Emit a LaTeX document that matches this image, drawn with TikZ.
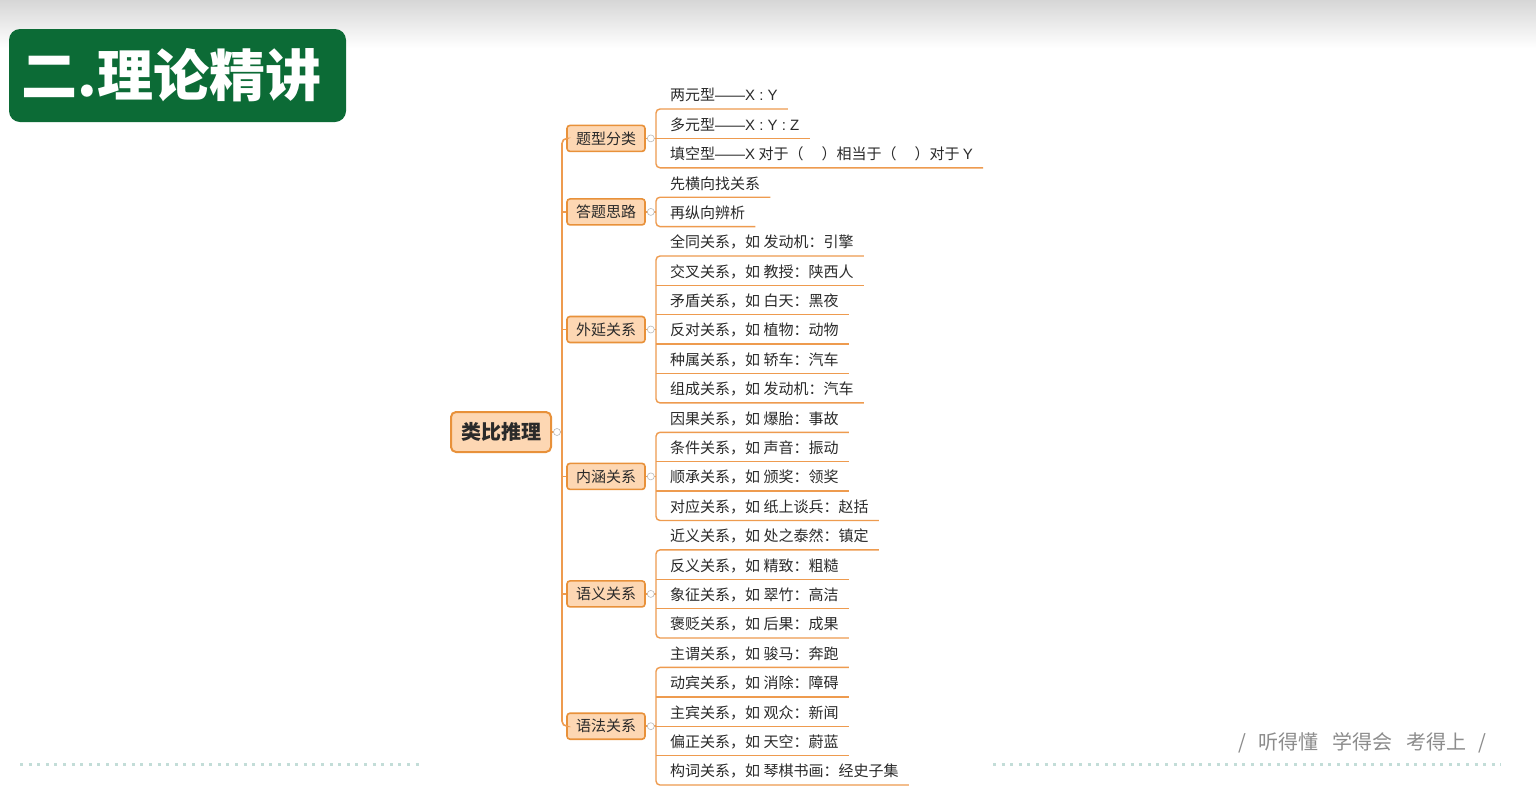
\documentclass[tikz,border=0pt]{standalone}
\usepackage{fontspec}
\setmainfont{Noto Sans CJK SC}
\newfontfamily\latf{Liberation Sans}
\usetikzlibrary{calc}
\definecolor{lineor}{HTML}{EE9B4F}
\definecolor{peach}{HTML}{FDD7B3}
\definecolor{bord}{HTML}{E8913A}
\definecolor{titlegreen}{HTML}{0C6B36}
\definecolor{dotc}{HTML}{C3DDD8}
\definecolor{slog}{HTML}{8C8C8C}
\definecolor{txt}{HTML}{2A2A2A}
\newcommand\mleaf[3]{\node[leaf] (#1) at (656,#2) {\hspace*{14pt}#3\hspace*{10pt}};}
\begin{document}
\begin{tikzpicture}[x=1pt,y=-1pt,
  conn/.style={draw=lineor,line width=1.6pt},
  uline/.style={draw=lineor,line width=1.4pt},
  rootbox/.style={draw=bord,line width=2pt,fill=peach,rounded corners=5pt,minimum width=100pt,minimum height=40pt,inner sep=0pt,font=\bfseries\fontsize{20}{20}\selectfont,text=txt},
  catbox/.style={draw=bord,line width=1.6pt,fill=peach,rounded corners=3pt,minimum width=78pt,minimum height=26pt,inner sep=0pt,font=\fontsize{15}{15}\selectfont,text=txt},
  leaf/.style={anchor=south west,inner sep=0pt,text depth=8pt,text height=13pt,font=\fontsize{15}{15}\selectfont,text=txt},
  tog/.style={circle,draw=gray!55,fill=white,line width=0.6pt,minimum size=7pt,inner sep=0pt},
  titlebox/.style={fill=titlegreen,rounded corners=11pt,minimum width=337pt,minimum height=93pt,inner sep=0pt,text=white,font=\bfseries\fontsize{56}{56}\selectfont},
  dots/.style={draw=dotc,line width=3pt,dash pattern=on 3pt off 5.6pt},
  slogan/.style={text=slog,font=\fontsize{20}{20}\selectfont,inner sep=0pt}
]
\useasboundingbox (0,0) rectangle (1536,796);
\fill[white] (0,0) rectangle (1536,796);
\shade[top color=gray!32,bottom color=white] (0,0) rectangle (1536,48);

% title
\node[titlebox] (title) at (177.5,75.5) {二.理论精讲\hspace*{12pt}};

% root and categories
\node[rootbox] (root) at (501,432) {类比推理};
\node[catbox] (c1) at (606,138.4) {题型分类};
\node[catbox] (c2) at (606,211.9) {答题思路};
\node[catbox] (c3) at (606,329.5) {外延关系};
\node[catbox] (c4) at (606,476.4) {内涵关系};
\node[catbox] (c5) at (606,593.9) {语义关系};
\node[catbox] (c6) at (606,726.2) {语法关系};
\coordinate (tx) at (562,432);

% trunk
\draw[conn,rounded corners=5pt] (c1.west) -- (c1.west -| tx) -- (c6.west -| tx) -- (c6.west);
\draw[conn] (c2.west) -- (c2.west -| tx);
\draw[conn] (c3.west) -- (c3.west -| tx);
\draw[conn] (c4.west) -- (c4.west -| tx);
\draw[conn] (c5.west) -- (c5.west -| tx);
\draw[conn] (root.east) -- (tx);
\node[tog] (roott) at ($(root.east)+(5,0)$) {};

% group 1
\mleaf{a1}{109}{两元型{\latf ——X : Y}}
\mleaf{a2}{138.4}{多元型{\latf ——X : Y : Z}}
\mleaf{a3}{167.8}{填空型{\latf ——X} 对于（\hspace{18pt}）相当于（\hspace{18pt}）对于 {\latf Y}}
\draw[uline,rounded corners=4pt] (a1.south east) -- (a1.south west) -- (a3.south west) -- (a3.south east);
\draw[uline] (a2.south west) -- (a2.south east);
\draw[conn] (c1.east) -- (c1.east -| a1.south west);
\node[tog] (c1t) at ($(c1.east)+(5,0)$) {};

% group 2
\mleaf{b1}{197.2}{先横向找关系}
\mleaf{b2}{226.6}{再纵向辨析}
\draw[uline,rounded corners=4pt] (b1.south east) -- (b1.south west) -- (b2.south west) -- (b2.south east);
\draw[conn] (c2.east) -- (c2.east -| b1.south west);
\node[tog] (c2t) at ($(c2.east)+(5,0)$) {};

% group 3
\mleaf{d1}{256}{全同关系，如 发动机：引擎}
\mleaf{d2}{285.3}{交叉关系，如 教授：陕西人}
\mleaf{d3}{314.7}{矛盾关系，如 白天：黑夜}
\mleaf{d4}{344.1}{反对关系，如 植物：动物}
\mleaf{d5}{373.5}{种属关系，如 轿车：汽车}
\mleaf{d6}{402.9}{组成关系，如 发动机：汽车}
\draw[uline,rounded corners=4pt] (d1.south east) -- (d1.south west) -- (d6.south west) -- (d6.south east);
\foreach \n in {d2,d3,d4,d5} \draw[uline] (\n.south west) -- (\n.south east);
\draw[conn] (c3.east) -- (c3.east -| d1.south west);
\node[tog] (c3t) at ($(c3.east)+(5,0)$) {};

% group 4
\mleaf{e1}{432.3}{因果关系，如 爆胎：事故}
\mleaf{e2}{461.7}{条件关系，如 声音：振动}
\mleaf{e3}{491.1}{顺承关系，如 颁奖：领奖}
\mleaf{e4}{520.5}{对应关系，如 纸上谈兵：赵括}
\draw[uline,rounded corners=4pt] (e1.south east) -- (e1.south west) -- (e4.south west) -- (e4.south east);
\foreach \n in {e2,e3} \draw[uline] (\n.south west) -- (\n.south east);
\draw[conn] (c4.east) -- (c4.east -| e1.south west);
\node[tog] (c4t) at ($(c4.east)+(5,0)$) {};

% group 5
\mleaf{f1}{549.9}{近义关系，如 处之泰然：镇定}
\mleaf{f2}{579.2}{反义关系，如 精致：粗糙}
\mleaf{f3}{608.6}{象征关系，如 翠竹：高洁}
\mleaf{f4}{638}{褒贬关系，如 后果：成果}
\draw[uline,rounded corners=4pt] (f1.south east) -- (f1.south west) -- (f4.south west) -- (f4.south east);
\foreach \n in {f2,f3} \draw[uline] (\n.south west) -- (\n.south east);
\draw[conn] (c5.east) -- (c5.east -| f1.south west);
\node[tog] (c5t) at ($(c5.east)+(5,0)$) {};

% group 6
\mleaf{g1}{667.4}{主谓关系，如 骏马：奔跑}
\mleaf{g2}{696.8}{动宾关系，如 消除：障碍}
\mleaf{g3}{726.2}{主宾关系，如 观众：新闻}
\mleaf{g4}{755.6}{偏正关系，如 天空：蔚蓝}
\mleaf{g5}{785}{构词关系，如 琴棋书画：经史子集}
\draw[uline,rounded corners=4pt] (g1.south east) -- (g1.south west) -- (g5.south west) -- (g5.south east);
\foreach \n in {g2,g3,g4} \draw[uline] (\n.south west) -- (\n.south east);
\draw[conn] (c6.east) -- (c6.east -| g1.south west);
\node[tog] (c6t) at ($(c6.east)+(5,0)$) {};

% footer
\draw[dots] (20,764) -- (424,764);
\draw[dots] (993,764) -- (1501,764);
\node[slogan,anchor=west] (slog) at (1238,743) {/\hspace{12pt}听得懂\hspace{14pt}学得会\hspace{14pt}考得上\hspace{12pt}/};
\end{tikzpicture}
\end{document}
